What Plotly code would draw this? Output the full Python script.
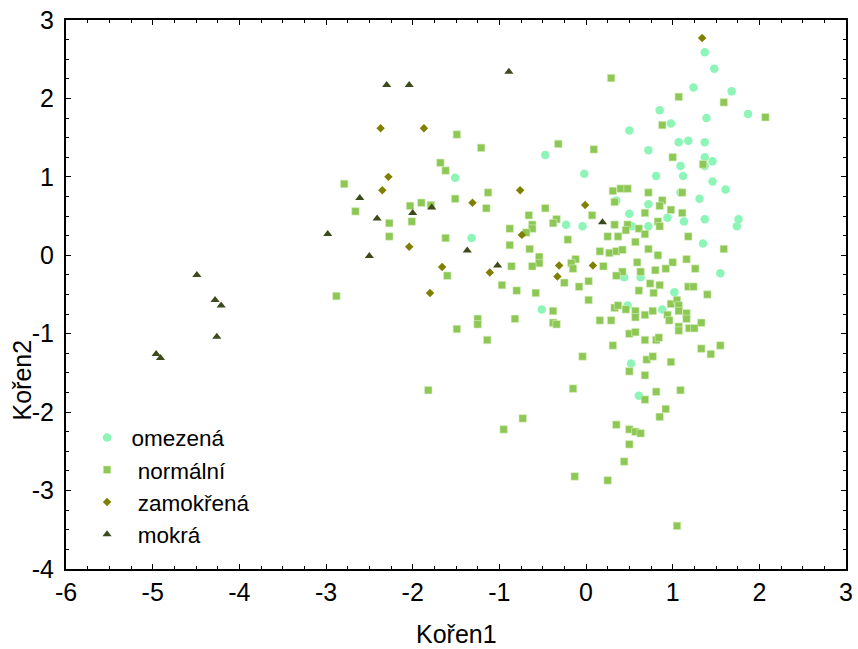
import plotly.graph_objects as go

# omezená (circles)
omez_x = [1.37, 1.48, 1.24, 1.68, 0.85, 0.98, 1.39, 1.87, 0.50, 1.07, 1.18, 1.37, 0.72, -0.47,
          1.37, 1.46, 1.37, 1.09, 1.12, 0.81, -0.02, -1.51, 1.46, 1.61, 1.09, 1.31, 0.35, 0.72,
          0.50, 0.94, 1.13, 1.37, 1.76, 1.74, -0.23, -0.04, 0.72, 0.53, -1.32, 1.35, 1.55, 0.44,
          0.63, -0.51, 0.48, 0.88, 1.02, 0.83, 0.52, 0.61]
omez_y = [2.59, 2.38, 2.14, 2.09, 1.85, 1.68, 1.75, 1.80, 1.59, 1.44, 1.46, 1.44, 1.34, 1.28,
          1.25, 1.20, 1.14, 1.14, 1.01, 1.01, 1.04, 0.99, 0.94, 0.84, 0.80, 0.72, 0.70, 0.65,
          0.53, 0.48, 0.43, 0.46, 0.46, 0.37, 0.39, 0.37, 0.37, 0.37, 0.22, 0.15, -0.23, -0.28,
          -0.28, -0.69, -0.64, -0.69, -0.47, 0.00, -1.38, -1.79]

# normální (squares)
norm_x = [-2.79, -2.66, -2.27, -2.27, -2.03, -2.01, -1.90, -1.79, -2.88, -1.82,
          0.29, 1.07, 1.59, 2.07, 0.88, -1.49, -1.21, -0.32, 0.09, 1.00, 1.35, -1.68, -1.62,
          0.31, 0.40, 0.48, 0.72, 1.11, -1.13, -1.51, 0.33, -1.15, -0.47, 0.88, 0.85, 0.98,
          0.68, 1.11, -0.66, 0.07, -0.34, -0.38, -0.62, -0.62, -0.69, -0.88, 0.33, 0.48, 0.46,
          0.61, 0.68, 0.83, 0.85, 0.25, 0.37, 1.18, -1.62, -0.88, -0.21, 0.57, -0.65, 0.16,
          0.27, 0.35, 0.42, 0.72, 0.83, 1.59, -0.54, -0.54, -0.12, -0.17, -0.15, -0.86, -0.62,
          0.20, 1.16, 1.00, 0.59, 1.26, 0.92, 0.80, 0.63, 0.42, 0.35, -1.60, -0.97, -0.80,
          -0.58, -0.25, -0.08, 0.03, 0.03, 0.74, 0.85, 0.61, 0.78, 1.18, 1.24, 1.40, 0.33,
          0.37, 0.46, 0.57, 0.57, 0.68, 0.77, 0.98, 1.05, 1.07, 1.07, 0.94, 0.96, 1.16, 1.16,
          1.33, -0.38, -0.82, -1.25, -1.25, -1.49, 0.16, 0.29, -0.38, -0.34,
          -1.14, 0.50, 0.57, 0.68, 0.81, 0.84, 0.31, 1.07, 1.07, 1.19, 1.25, 1.33, 1.44, 1.55,
          -0.04, 0.50, 0.70, 0.77, 0.68, 0.98, -0.15, 0.81, 1.09, 0.68, 0.92, 0.85, -0.73,
          -0.95, 0.35, 0.50, 0.57, 0.63, 0.50, 0.44, -0.13, 0.25, 1.05]
norm_y = [0.91, 0.56, 0.41, 0.24, 0.63, 0.43, 0.67, 0.64, -0.52, -1.72,
          2.26, 2.02, 1.95, 1.76, 1.66, 1.54, 1.37, 1.42, 1.35, 1.25, 1.16, 1.18, 1.08,
          0.82, 0.85, 0.85, 0.80, 0.80, 0.80, 0.72, 0.68, 0.60, 0.60, 0.70, 0.63, 0.58,
          0.54, 0.54, 0.51, 0.51, 0.46, 0.41, 0.39, 0.34, 0.29, 0.34, 0.39, 0.39, 0.32,
          0.34, 0.27, 0.43, 0.37, 0.24, 0.24, 0.24, 0.22, 0.13, 0.20, 0.17, 0.08, 0.05,
          0.03, 0.05, 0.07, 0.08, 0.00, 0.08, -0.02, -0.10, -0.05, -0.10, -0.17, -0.14, -0.14,
          -0.14, -0.05, -0.09, -0.09, -0.17, -0.17, -0.19, -0.21, -0.21, -0.26, -0.26, -0.38, -0.45,
          -0.48, -0.35, -0.40, -0.33, -0.57, -0.36, -0.38, -0.45, -0.48, -0.40, -0.40, -0.50, -0.67,
          -0.64, -0.69, -0.71, -0.79, -0.76, -0.71, -0.62, -0.57, -0.64, -0.71, -0.76, -0.83, -0.74, -0.81,
          -0.86, -0.71, -0.81, -0.81, -0.88, -0.94, -0.83, -0.83, -0.86, -0.88,
          -1.08, -1.00, -0.98, -1.08, -1.08, -1.05, -1.15, -0.91, -0.96, -0.93, -0.93, -1.19, -1.26, -1.15,
          -1.29, -1.48, -1.33, -1.29, -1.53, -1.36, -1.70, -1.74, -1.72, -1.84, -1.96, -2.06, -2.08,
          -2.22, -2.16, -2.22, -2.25, -2.27, -2.41, -2.63, -2.82, -2.87, -3.45]

# zamokřená (diamonds)
zam_x = [-2.37, -1.87, -2.28, -2.35, -2.04, -1.80, 1.34, -0.76, -1.31, -0.01, -0.74, -1.66,
         -1.11, -0.31, 0.08, -0.33]
zam_y = [1.62, 1.62, 1.00, 0.83, 0.11, -0.48, 2.77, 0.83, 0.67, 0.64, 0.26, -0.15,
         -0.22, -0.13, -0.13, -0.27]

# mokrá (triangles)
mok_x = [-2.30, -2.04, -2.61, -2.00, -2.41, -2.98, -2.50, -4.49, -4.28, -4.21, -1.78,
         -4.96, -4.91, -4.26, -0.89, -1.37, -1.02, 0.19]
mok_y = [2.17, 2.17, 0.73, 0.54, 0.47, 0.27, -0.01, -0.25, -0.57, -0.64, 0.61,
         -1.26, -1.31, -1.04, 2.34, 0.06, -0.13, 0.42]

# tick values and labels (hyphen minus as in the reference)
x_ticks = [-6, -5, -4, -3, -2, -1, 0, 1, 2, 3]
x_labels = ["-6", "-5", "-4", "-3", "-2", "-1", "0", "1", "2", "3"]
y_ticks = [-4, -3, -2, -1, 0, 1, 2, 3]
y_labels = ["-4", "-3", "-2", "-1", "0", "1", "2", "3"]

names = ["\u2009omezená", "\u00a0\u2009normální", "\u00a0\u2009zamokřená", "\u00a0\u2009mokrá"]
FONT = "Liberation Sans, Arial, sans-serif"

fig = go.Figure()
fig.add_trace(go.Scatter(x=omez_x, y=omez_y, mode="markers", name=names[0],
                         marker=dict(symbol="circle", size=8.5, color="#8ef5b8",
                                     line=dict(width=0))))
fig.add_trace(go.Scatter(x=norm_x, y=norm_y, mode="markers", name=names[1],
                         marker=dict(symbol="square", size=7.5, color="#8dc854",
                                     line=dict(width=0.6, color="#d8eec4"))))
fig.add_trace(go.Scatter(x=zam_x, y=zam_y, mode="markers", name=names[2],
                         marker=dict(symbol="diamond", size=6.5, color="#808000",
                                     line=dict(width=0))))
fig.add_trace(go.Scatter(x=mok_x, y=mok_y, mode="markers", name=names[3],
                         marker=dict(symbol="triangle-up", size=8, color="#3c4a1c",
                                     line=dict(width=0))))

axis_common = dict(
    showgrid=False, zeroline=False, showline=True, linecolor="black", linewidth=2,
    mirror="allticks", ticks="inside", ticklen=5, tickwidth=1, tickcolor="black",
    tickmode="array", automargin=False,
    tickfont=dict(family=FONT, size=25, color="black"),
    minor=dict(ticks="inside", ticklen=3, tickwidth=1, tickcolor="black",
               tickmode="linear", dtick=0.25),
)

fig.update_layout(
    width=858, height=649,
    margin=dict(l=66, r=12, t=20, b=80, autoexpand=False),
    paper_bgcolor="white", plot_bgcolor="white",
    font=dict(family=FONT, size=25, color="black"),
    xaxis=dict(range=[-6, 3], tickvals=x_ticks, ticktext=x_labels,
               ticklabelstandoff=0, **axis_common),
    yaxis=dict(range=[-4, 3], tickvals=y_ticks, ticktext=y_labels,
               ticklabelstandoff=5, **axis_common),
    showlegend=True,
    legend=dict(x=0.027, y=0.278, xanchor="left", yanchor="top", bgcolor="rgba(0,0,0,0)",
                font=dict(family=FONT, size=22.5, color="black"),
                itemsizing="trace"),
    annotations=[
        dict(text="Kořen1", x=0.5, xref="paper", y=-0.118, yref="paper", showarrow=False,
             xanchor="center", yanchor="middle", font=dict(family=FONT, size=25)),
        dict(text="Kořen2", x=-0.056, xref="paper", y=0.344, yref="paper", showarrow=False,
             textangle=-90, xanchor="center", yanchor="middle", font=dict(family=FONT, size=25)),
    ],
)

fig.write_html("out.html")
